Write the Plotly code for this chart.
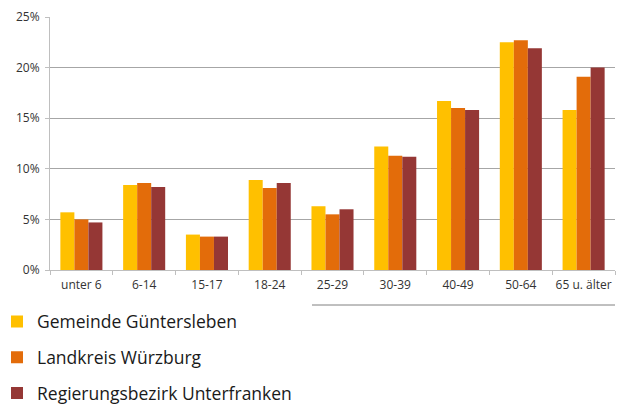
import plotly.graph_objects as go

categories = ["unter 6", "6-14", "15-17", "18-24", "25-29", "30-39", "40-49", "50-64", "65 u. älter"]
gemeinde = [5.7, 8.4, 3.5, 8.9, 6.3, 12.2, 16.7, 22.5, 15.8]
landkreis = [5.0, 8.6, 3.3, 8.1, 5.5, 11.3, 16.0, 22.7, 19.1]
bezirk = [4.7, 8.2, 3.3, 8.6, 6.0, 11.2, 15.8, 21.9, 20.0]
series_names = ["Gemeinde Güntersleben", "Landkreis Würzburg", "Regierungsbezirk Unterfranken"]
colors = ["#FFC000", "#E36C0A", "#953735"]
y_ticks = [0, 5, 10, 15, 20, 25]
y_tick_labels = ["0%", "5%", "10%", "15%", "20%", "25%"]

W, H = 631, 405
ml, mr, mt, mb = 42, 24, 9, 143
pw, ph = W - ml - mr, H - mt - mb

fig = go.Figure()
for i, (name, vals) in enumerate(zip(series_names, [gemeinde, landkreis, bezirk])):
    fig.add_trace(go.Bar(
        x=categories, y=vals, name=name, marker_color=colors[i],
        marker_line_width=0, legendgroup=f"g{i}",
    ))

fig.update_layout(
    width=W, height=H,
    margin=dict(l=ml, r=mr, t=mt, b=mb, autoexpand=False),
    paper_bgcolor="white", plot_bgcolor="white",
    barmode="group", bargap=0.33, bargroupgap=0,
    font=dict(family="Open Sans, Noto Sans, sans-serif", color="#333333"),
    showlegend=True,
    legend=dict(
        xref="paper", yref="container",
        x=-53 / pw, y=0.27, xanchor="left", yanchor="top",
        font=dict(size=17.5, color="#1a1a1a", family="Open Sans, sans-serif"),
        tracegroupgap=10, itemwidth=30,
        bgcolor="rgba(0,0,0,0)",
    ),
)
fig.update_xaxes(
    showline=True, linecolor="#BFBFBF", linewidth=1,
    ticks="outside", tickson="boundaries", ticklen=4, tickcolor="#BFBFBF",
    tickfont=dict(size=12, color="#333333"), tickangle=0,
    ticklabelstandoff=4,
    showgrid=False,
)
fig.update_yaxes(
    range=[0, 25], tickvals=y_ticks, ticktext=y_tick_labels,
    showline=True, linecolor="#BFBFBF", linewidth=1,
    ticks="outside", ticklen=4, tickcolor="#BFBFBF",
    ticklabelstandoff=3,
    showgrid=True, gridcolor="#A6A6A6", gridwidth=1,
    tickfont=dict(size=12, color="#333333"),
    zeroline=False,
)
# thin line below category labels on the right side
fig.add_shape(type="line", xref="paper", yref="paper",
              x0=(312 - 50) / pw, x1=1.0,
              y0=-35 / ph, y1=-35 / ph,
              line=dict(color="#808080", width=1))

fig.write_html("out.html")
